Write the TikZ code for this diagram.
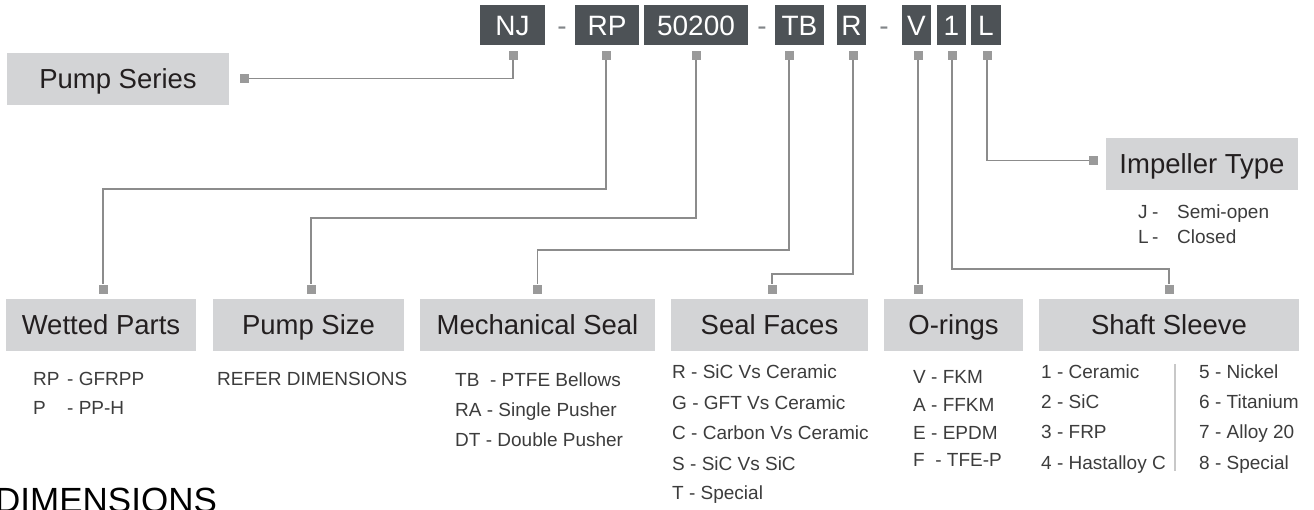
\documentclass[tikz,border=0pt]{standalone}
\usepackage{fontspec}
\setmainfont{Liberation Sans}
\definecolor{codebg}{HTML}{4D5256}
\definecolor{labbg}{HTML}{D3D4D6}
\definecolor{conncol}{HTML}{8C8C8C}
\definecolor{sqcol}{HTML}{9A9A9A}
\definecolor{labtxt}{HTML}{231F20}
\definecolor{bodytxt}{HTML}{3C3C3C}
\definecolor{sepcol}{HTML}{C8C8C8}
\begin{document}
\begin{tikzpicture}[x=1pt,y=-1pt,
  codebox/.style={draw=none,fill=codebg,text=white,minimum height=40pt,inner sep=0pt,
    font=\fontsize{28}{30}\selectfont,text height=20pt,text depth=0pt},
  dashtxt/.style={text=codebg!70,inner sep=0pt,font=\fontsize{28}{30}\selectfont,text height=20pt,text depth=0pt},
  labbox/.style={draw=none,fill=labbg,text=labtxt,minimum height=52pt,inner sep=0pt,
    font=\fontsize{27.5}{30}\selectfont,text height=19.7pt,text depth=0pt},
  sq/.style={draw=none,fill=sqcol,minimum size=9pt,inner sep=0pt},
  conn/.style={draw=conncol,line width=1.5pt},
  item/.style={anchor=west,text=bodytxt,inner sep=0pt,font=\fontsize{19}{22}\selectfont,text height=13.6pt,text depth=0pt},
  bigtxt/.style={anchor=base west,text=black,inner sep=0pt,font=\fontsize{35}{38}\selectfont}
]
\useasboundingbox (0,0) rectangle (1314,509);

% ---- code boxes ----
\node[codebox,minimum width=65pt] (cnj) at (512.5,25) {NJ};
\node[dashtxt] (d1) at (562,25) {-};
\node[codebox,minimum width=64pt] (crp) at (607,25) {RP};
\node[codebox,minimum width=104pt] (c50) at (696,25) {50200};
\node[dashtxt] (d2) at (762,25) {-};
\node[codebox,minimum width=49pt] (ctb) at (799.5,25) {TB};
\node[codebox,minimum width=29pt] (cr) at (851.5,25) {R};
\node[dashtxt] (d3) at (884,25) {-};
\node[codebox,minimum width=29pt] (cv) at (916.5,25) {V};
\node[codebox,minimum width=29pt] (c1) at (951.5,25) {1};
\node[codebox,minimum width=30pt] (cl) at (986,25) {L};

% ---- squares under code ----
\node[sq] (snj) at (513,55) {};
\node[sq] (srp) at (606,55) {};
\node[sq] (s50) at (696,55) {};
\node[sq] (stb) at (789,55) {};
\node[sq] (sr) at (853,55) {};
\node[sq] (sv) at (918,55) {};
\node[sq] (s1) at (952,55) {};
\node[sq] (sl) at (987,55) {};

% ---- label boxes ----
\node[labbox,minimum width=222pt] (lps) at (118,79) {Pump Series};
\node[labbox,minimum width=192pt] (lit) at (1202,163.5) {Impeller Type};
\node[labbox,minimum width=190pt] (lwp) at (101,325) {Wetted Parts};
\node[labbox,minimum width=191pt] (lsz) at (308.5,325) {Pump Size};
\node[labbox,minimum width=235pt] (lms) at (537.5,325) {Mechanical Seal};
\node[labbox,minimum width=197pt] (lsf) at (769.5,325) {Seal Faces};
\node[labbox,minimum width=139pt] (lor) at (953.5,325) {O-rings};
\node[labbox,minimum width=260pt] (lss) at (1169,325) {Shaft Sleeve};

% ---- squares at labels ----
\node[sq] (sps) at (244.5,78.5) {};
\node[sq] (sit) at (1093.5,160.5) {};
\node[sq] (swp) at (103,289) {};
\node[sq] (ssz) at (311,289) {};
\node[sq] (sms) at (537.5,289) {};
\node[sq] (ssf) at (772,289) {};
\node[sq] (sor) at (918,289) {};
\node[sq] (sss) at (1169,289) {};

% ---- connectors ----
\draw[conn] (snj.south) |- (sps.east);
\draw[conn] (srp.south) -- ++(0,129.5) -| (swp.north);
\draw[conn] (s50.south) -- ++(0,158.5) -| (ssz.north);
\draw[conn] (stb.south) -- ++(0,190.5) -| (sms.north);
\draw[conn] (sr.south) -- ++(0,214.5) -| (ssf.north);
\draw[conn] (sv.south) -- (sor.north);
\draw[conn] (s1.south) -- ++(0,209.5) -| (sss.north);
\draw[conn] (sl.south) |- (sit.west);

% ---- item texts ----
\node[item] (wp1a) at (33,379) {RP};
\node[item] (wp1b) at (67,379) {- GFRPP};
\node[item] (wp2a) at (33,408) {P};
\node[item] (wp2b) at (67,408) {- PP-H};

\node[item] (sz1) at (217,379) {REFER DIMENSIONS};

\node[item] (ms1) at (455,380) {TB\ \ - PTFE Bellows};
\node[item] (ms2) at (455,410) {RA - Single Pusher};
\node[item] (ms3) at (455,440) {DT - Double Pusher};

\node[item] (sf1) at (672,372) {R - SiC Vs Ceramic};
\node[item] (sf2) at (672,403) {G - GFT Vs Ceramic};
\node[item] (sf3) at (672,433) {C - Carbon Vs Ceramic};
\node[item] (sf4) at (672,464) {S - SiC Vs SiC};
\node[item] (sf5) at (672,493) {T - Special};

\node[item] (or1) at (913,377) {V - FKM};
\node[item] (or2) at (913,405) {A - FFKM};
\node[item] (or3) at (913,433) {E - EPDM};
\node[item] (or4) at (913,460) {F\ \ - TFE-P};

\node[item] (ss1) at (1041,372) {1 - Ceramic};
\node[item] (ss2) at (1041,402) {2 - SiC};
\node[item] (ss3) at (1041,432) {3 - FRP};
\node[item] (ss4) at (1041,463) {4 - Hastalloy C};
\node[item] (ss5) at (1199,372) {5 - Nickel};
\node[item] (ss6) at (1199,402) {6 - Titanium};
\node[item] (ss7) at (1199,432) {7 - Alloy 20};
\node[item] (ss8) at (1199,463) {8 - Special};
\draw[draw=sepcol,line width=2pt] (1175,364) -- (1175,471);

\node[item] (it1a) at (1138,212) {J};
\node[item] (it1b) at (1152,212) {-};
\node[item] (it1c) at (1177,212) {Semi-open};
\node[item] (it2a) at (1138,237) {L};
\node[item] (it2b) at (1152,237) {-};
\node[item] (it2c) at (1177,237) {Closed};

% ---- bottom heading ----
\node[bigtxt] (dim) at (-5,512) {DIMENSIONS};
\end{tikzpicture}
\end{document}
